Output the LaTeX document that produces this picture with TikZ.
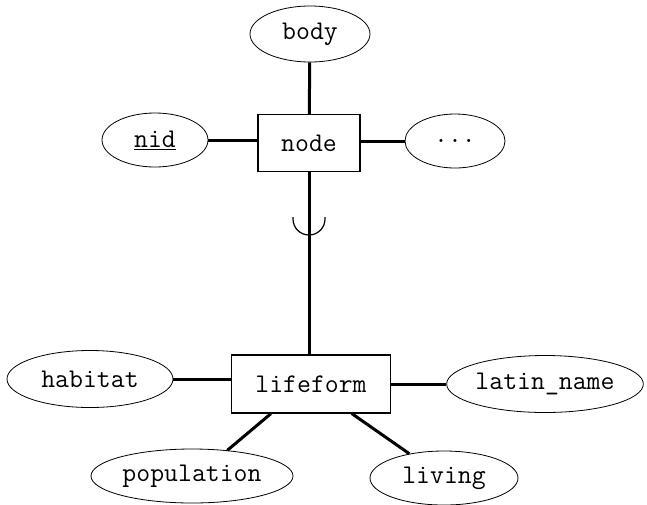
\documentclass[tikz,border=0pt]{standalone}
\usepackage{fontspec}
\usetikzlibrary{shapes.geometric,calc}
\begin{document}
\begin{tikzpicture}[x=1pt,y=-1pt,
  every node/.style={font=\ttfamily\fontsize{27}{27}\selectfont, inner sep=0pt},
  entity/.style={draw, line width=1.2pt, rectangle},
  attr/.style={draw, line width=0.8pt, ellipse},
  link/.style={line width=3pt}]
\useasboundingbox (0,0) rectangle (647,504);

% entities
\node[entity, minimum width=102pt, minimum height=57pt] (node) at (309,143) {node};
\node[entity, minimum width=159pt, minimum height=58pt] (lifeform) at (311,384) {lifeform};

% attributes of node
\node[attr, minimum width=120pt, minimum height=56pt] (body) at (310,34) {body};
\node[attr, minimum width=106pt, minimum height=54pt] (nid) at (155,140) {\underline{nid}};
\node[attr, minimum width=100pt, minimum height=54pt] (more) at (455,141) {...};

% attributes of lifeform
\node[attr, minimum width=166pt, minimum height=57pt] (habitat) at (90,379) {habitat};
\node[attr, minimum width=196pt, minimum height=57pt] (latin) at (545,384) {latin\_name};
\node[attr, minimum width=202pt, minimum height=54pt] (population) at (192,476) {population};
\node[attr, minimum width=148pt, minimum height=54pt] (living) at (444,478) {living};

% connectors
\draw[link] (body) -- (node);
\draw[link] (nid) -- (nid -| node.west);
\draw[link] (node.east |- more) -- (more);
\draw[link] (habitat) -- (habitat -| lifeform.west);
\draw[link] (lifeform.east |- latin) -- (latin);
\draw[link] ($(lifeform.south west)!0.25!(lifeform.south east)$) -- (population.36);
\draw[link] ($(lifeform.south west)!0.755!(lifeform.south east)$) -- (living.145);

% specialisation link with subset mark
\coordinate (sub) at (309,219);
\draw[link] (node.south) -- (node.south |- lifeform.north);
\draw[line width=1.2pt] ($(sub)+(-16,-2)$) -- ($(sub)+(-16,0)$) arc (180:0:16) -- ($(sub)+(16,-2)$);
\end{tikzpicture}
\end{document}
